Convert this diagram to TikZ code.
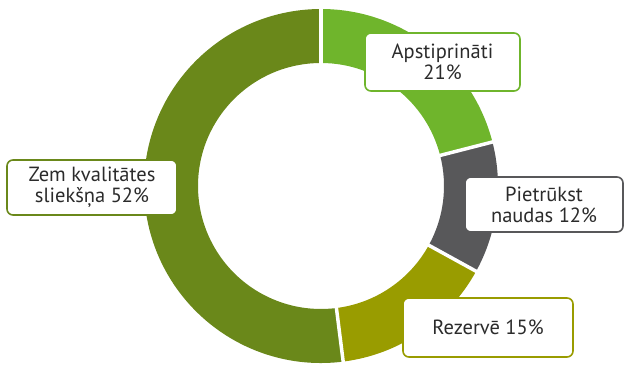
\documentclass[tikz,border=0pt]{standalone}
\usepackage{fontspec}
\setmainfont{PT Sans}
\usepackage{xcolor}
\newcommand{\chartwidth}{628pt}
\newcommand{\chartheight}{365pt}
\newcommand{\outerr}{177pt}
\newcommand{\innerr}{123pt}
\definecolor{segapproved}{HTML}{6FB52C}
\definecolor{segshort}{HTML}{58585A}
\definecolor{segreserve}{HTML}{999C00}
\definecolor{segbelow}{HTML}{6A881A}
\definecolor{labeltext}{HTML}{2B2B2B}

\tikzset{
  labelbox/.style={draw=#1, line width=1.6pt, fill=white, rounded corners=6pt,
    align=center, inner sep=0pt, text=labeltext,
    font=\fontsize{20.5}{21}\selectfont},
}

\begin{document}
\begin{tikzpicture}[x=1pt, y=1pt]
  \useasboundingbox (0,0) rectangle (\chartwidth, \chartheight);

  % === DONUT ===
  \begin{scope}[shift={(321pt, 179pt)}]
    \foreach \a/\b/\c in {90/14.4/segapproved, 14.4/-28.8/segshort,
                          -28.8/-82.8/segreserve, -82.8/-270/segbelow} {
      \fill[\c] (\a:\outerr) arc[start angle=\a, end angle=\b, radius=\outerr]
        -- (\b:\innerr) arc[start angle=\b, end angle=\a, radius=\innerr] -- cycle;
    }
    % white gaps between the slices
    \foreach \a in {90, 14.4, -28.8, -82.8} {
      \draw[white, line width=3.5pt] (\a:\innerr-2pt) -- (\a:\outerr+2pt);
    }
  \end{scope}

  % === LABELS ===
  \node[labelbox=segapproved, minimum width=155pt, minimum height=58pt]
    (approved) at (442.5, 303) {Apstiprināti\\21\%};
  \node[labelbox=segshort, minimum width=158pt, minimum height=55pt]
    (shortfall) at (544, 160.5) {Pietrūkst\\naudas 12\%};
  \node[labelbox=segreserve, minimum width=170pt, minimum height=59pt]
    (reserve) at (488, 37.5) {Rezervē 15\%};
  \node[labelbox=segbelow, minimum width=170pt, minimum height=55pt]
    (below) at (92, 177.5) {Zem kvalitātes\\sliekšņa 52\%};
\end{tikzpicture}
\end{document}
